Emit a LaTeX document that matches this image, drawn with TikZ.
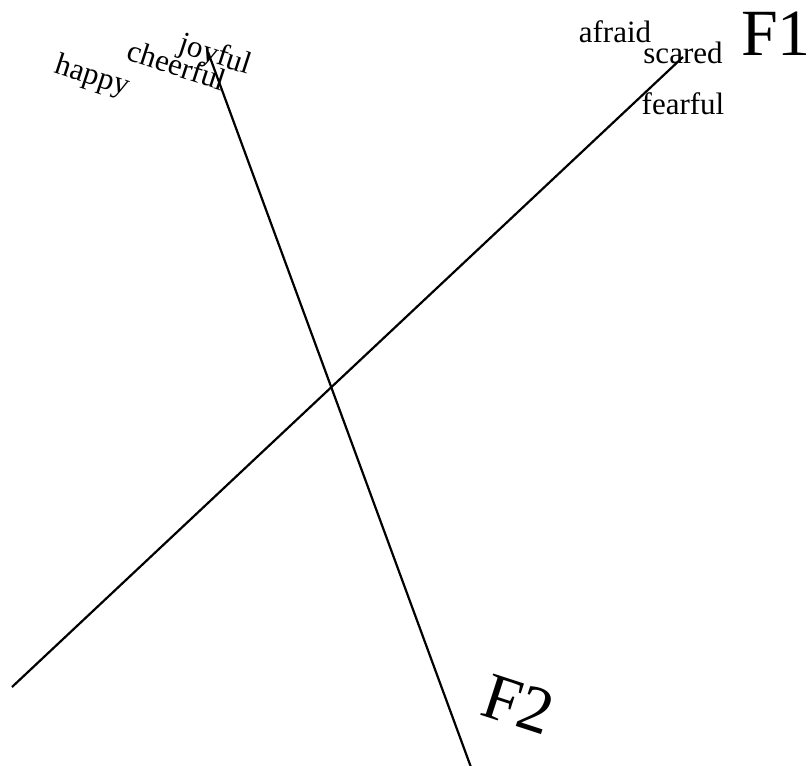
\documentclass[tikz,border=0pt]{standalone}
\usepackage{fontspec}
\setmainfont{Liberation Serif}
\usepackage{tikz}
\usetikzlibrary{positioning}
\tikzset{
  word/.style  ={inner sep=0pt, font=\fontsize{31}{36}\selectfont},
  tilt/.style  ={word, rotate=-18},
  axname/.style={inner sep=0pt, font=\fontsize{66}{72}\selectfont},
  axis/.style  ={draw=black, line width=2.2pt}
}
\begin{document}
\begin{tikzpicture}[x=1pt,y=-1pt]
\useasboundingbox (0,0) rectangle (810,765);
% factor axes
\coordinate (f1lo) at (12,687);
\coordinate (f1hi) at (683,57);
\coordinate (f2hi) at (208,52);
\coordinate (f2lo) at (472,770);
\draw[axis] (f1lo) -- (f1hi);
\draw[axis] (f2hi) -- (f2lo);
% labels
\node[axname] (fone) at (776,34) {F1};
\node[axname, rotate=-18] (ftwo) at (518,704) {F2};
\node[tilt] (happy) at (92,77) {happy};
\node[tilt] (cheer) at (177,65) {cheerful};
\node[tilt] (joy) at (215,56) {joyful};
\node[word] (afraid) at (615,32) {afraid};
\node[word] (scared) at (683,53) {scared};
\node[word] (fear) at (683,104) {fearful};
\end{tikzpicture}
\end{document}
